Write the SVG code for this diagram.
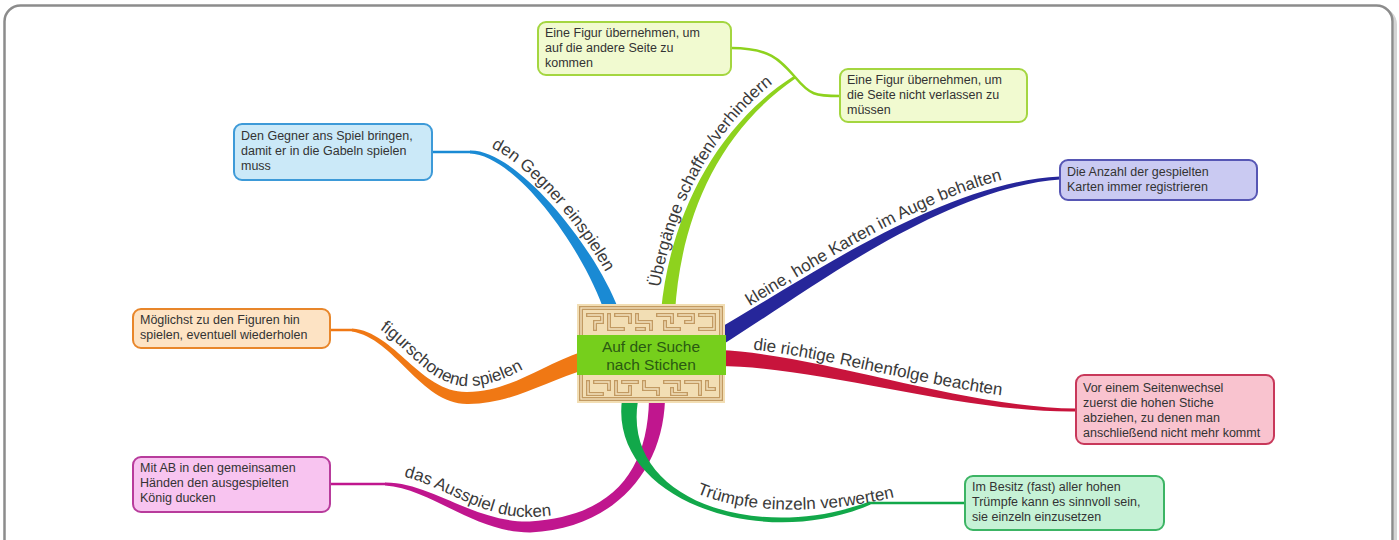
<svg xmlns="http://www.w3.org/2000/svg" width="1399" height="540" viewBox="0 0 1399 540">
<style>
.bt{font-family:"Liberation Sans",Arial,sans-serif;font-size:12.5px;fill:#333}
.lbl{font-family:"Liberation Sans",Arial,sans-serif;font-size:17px;fill:#3a3a3a}
.lead{fill:none;stroke-width:2.5;stroke-linecap:round}
.box{stroke-width:2}
.mz{fill:none;stroke:#c29a62;stroke-width:4;stroke-linecap:square}
.mzi{fill:none;stroke:#f4e3c0;stroke-width:1.3;stroke-linecap:square}
</style>
<defs>
<path id="tpBlue" d="M470,142 C515,142 597.4,241.6 623.3,308"/>
<path id="tpLime" d="M657,311 C666,219 710.6,123.3 790.6,70.3"/>
<path id="tpNavy" d="M712.4,328.5 C795,281.4 939.5,177 1059.5,170"/>
<path id="tpRed" d="M718.2,347 C820.2,350 960,401 1076,401"/>
<path id="tpGreen" d="M640,401 C624,501 760,530 900,496 L960,494"/>
<path id="tpMag" d="M370,474 L385,474 C430.2,475 475,518 529.4,517 C580,516 630,500 648,400"/>
<path id="tpOr" d="M340,319 L352.5,319 C395,322 420,386 467,386 C510,386 537,356 578,342"/>
<path id="maze" d="M588,315 H602 V322 H595 V329 M609,315 V329 H623 M616,315 H630 V322 M637,315 V322 H651 V329 M644,329 H637 M658,315 H672 V322 M665,322 V329 H679 M679,315 H693 V322 H686 M700,315 H714 V329 H700 M588,382 V394 H602 M595,382 H609 V389 M616,382 V394 H630 V387 M623,382 H637 M644,382 V389 H658 V394 M665,382 H679 V389 M672,389 V394 H686 M686,382 H700 V394 M707,382 V389 H714"/>
</defs>
<rect width="1399" height="540" fill="#fff"/>
<rect x="7.5" y="8.5" width="1388" height="560" rx="16" fill="none" stroke="#d4d4d4" stroke-width="3"/>
<rect x="4.5" y="5.5" width="1388" height="560" rx="16" fill="#fff" stroke="#8c8c8c" stroke-width="2.5"/>

<g id="connectors">
  <path fill="#c0168e" d="M649,399.8 C647.5,469.8 614.6,516 529.7,521.5 C475,523 430.1,482 385,482.5 L385,485.5 C429.9,488 475,533 530.3,532.5 C615.35,528 662.5,470.2 665,400.2 Z"/>
  <path class="lead" stroke="#c0168e" d="M385,484 H330"/>
  <path fill="#12a84a" d="M622.1,398.8 C608.1,499 761.9,552.6 870.6,504.4 L869.4,501.6 C758.1,543.4 621.9,501 637.9,401.2 Z"/>
  <path class="lead" stroke="#12a84a" d="M869,503 H965"/>
  <path fill="#f07814" d="M582.2,351.5 C537.5,367.4 510,391.5 467,392 C420,392.5 395.3,332 352.2,328.5 L351.8,331.5 C394.7,338 420,403.5 467,404 C510,404.5 542.5,382.6 587.8,368.5 Z"/>
  <path class="lead" stroke="#f07814" d="M352,330 H330"/>
  <path fill="#1a8ad4" d="M618.6,309.6 C593.2,243.15 515,149 470,150.5 L470,153.5 C515,155 582.8,246.85 605.4,314.4 Z"/>
  <path class="lead" stroke="#1a8ad4" d="M470,152 H432"/>
  <path fill="#8ed21e" d="M675,312.5 C680.5,220.4 716.7,132.5 795.8,78.2 L794.2,75.8 C713.3,127.5 669.5,219.6 661,311.5 Z"/>
  <path class="lead" stroke="#8ed21e" d="M731,48 C770,48 780,60 795,77 C810,95 815,96 840,96"/>
  <path fill="#26269a" d="M722,344.9 C803,295.2 940.2,188 1060.1,179.5 L1059.9,176.5 C939.8,182 797,284.8 714,331.1 Z"/>
  <path fill="#c8143c" d="M717.8,366 C819.9,366 960,413 1076,411.5 L1076,408.5 C960,407 820.1,354 718.2,350 Z"/>

  <text class="lbl"><textPath href="#tpBlue" startOffset="22">den Gegner einspielen</textPath></text>
  <text class="lbl"><textPath href="#tpLime" startOffset="24">Übergänge schaffen/verhindern</textPath></text>
  <text class="lbl"><textPath href="#tpNavy" startOffset="44">kleine, hohe Karten im Auge behalten</textPath></text>
  <text class="lbl"><textPath href="#tpRed" startOffset="35">die richtige Reihenfolge beachten</textPath></text>
  <text class="lbl"><textPath href="#tpGreen" startOffset="118">Trümpfe einzeln verwerten</textPath></text>
  <text class="lbl"><textPath href="#tpMag" startOffset="34">das Ausspiel ducken</textPath></text>
  <text class="lbl"><textPath href="#tpOr" startOffset="42">figurschonend spielen</textPath></text>
</g>

<g id="center">
  <rect x="577" y="304" width="148" height="99" fill="#f2deb4"/>
  <rect x="581" y="308" width="140" height="91" class="mz"/>
  <rect x="581" y="308" width="140" height="91" class="mzi"/>
  <use href="#maze" class="mz"/>
  <use href="#maze" class="mzi"/>
  <rect x="577" y="335" width="149" height="40" fill="#76cf1c"/>
  <text x="651" y="352" text-anchor="middle" font-family="Liberation Sans, Arial, sans-serif" font-size="15.5" fill="#2a5a12">Auf der Suche</text>
  <text x="651" y="370" text-anchor="middle" font-family="Liberation Sans, Arial, sans-serif" font-size="15.5" fill="#2a5a12">nach Stichen</text>
</g>

<g id="n-gegner">
  <rect class="box" x="234" y="124" width="198" height="56" rx="8" fill="#cbe9f8" stroke="#3d9ad8"/>
  <text class="bt" x="241"><tspan y="140">Den Gegner ans Spiel bringen,</tspan><tspan x="241" y="155">damit er in die Gabeln spielen</tspan><tspan x="241" y="170">muss</tspan></text>
</g>
<g id="n-figur1">
  <rect class="box" x="538" y="22" width="193" height="53" rx="8" fill="#f1fad0" stroke="#a4d640"/>
  <text class="bt" x="545"><tspan y="37">Eine Figur übernehmen, um</tspan><tspan x="545" y="52">auf die andere Seite zu</tspan><tspan x="545" y="67">kommen</tspan></text>
</g>
<g id="n-figur2">
  <rect class="box" x="840" y="69" width="187" height="53" rx="8" fill="#f1fad0" stroke="#a4d640"/>
  <text class="bt" x="847"><tspan y="84">Eine Figur übernehmen, um</tspan><tspan x="847" y="99">die Seite nicht verlassen zu</tspan><tspan x="847" y="114">müssen</tspan></text>
</g>
<g id="n-anzahl">
  <rect class="box" x="1060" y="160" width="197" height="40" rx="8" fill="#cacaf2" stroke="#5656b4"/>
  <text class="bt" x="1067"><tspan y="176">Die Anzahl der gespielten</tspan><tspan x="1067" y="191">Karten immer registrieren</tspan></text>
</g>
<g id="n-seitenwechsel">
  <rect class="box" x="1076" y="375" width="198" height="69" rx="8" fill="#f9c3cf" stroke="#c8385a"/>
  <text class="bt" x="1083"><tspan y="392">Vor einem Seitenwechsel</tspan><tspan x="1083" y="407">zuerst die hohen Stiche</tspan><tspan x="1083" y="422">abziehen, zu denen man</tspan><tspan x="1083" y="437">anschließend nicht mehr kommt</tspan></text>
</g>
<g id="n-truempfe">
  <rect class="box" x="965" y="476" width="199" height="54" rx="8" fill="#c6f2d6" stroke="#3cb464"/>
  <text class="bt" x="972"><tspan y="491">Im Besitz (fast) aller hohen</tspan><tspan x="972" y="506">Trümpfe kann es sinnvoll sein,</tspan><tspan x="972" y="521">sie einzeln einzusetzen</tspan></text>
</g>
<g id="n-ducken">
  <rect class="box" x="133" y="457" width="197" height="55" rx="8" fill="#f8c4f0" stroke="#b83c9c"/>
  <text class="bt" x="140"><tspan y="472">Mit AB in den gemeinsamen</tspan><tspan x="140" y="487">Händen den ausgespielten</tspan><tspan x="140" y="502">König ducken</tspan></text>
</g>
<g id="n-figuren">
  <rect class="box" x="133" y="309" width="197" height="39" rx="8" fill="#fde3c4" stroke="#e8862a"/>
  <text class="bt" x="140"><tspan y="324">Möglichst zu den Figuren hin</tspan><tspan x="140" y="339">spielen, eventuell wiederholen</tspan></text>
</g>
</svg>
